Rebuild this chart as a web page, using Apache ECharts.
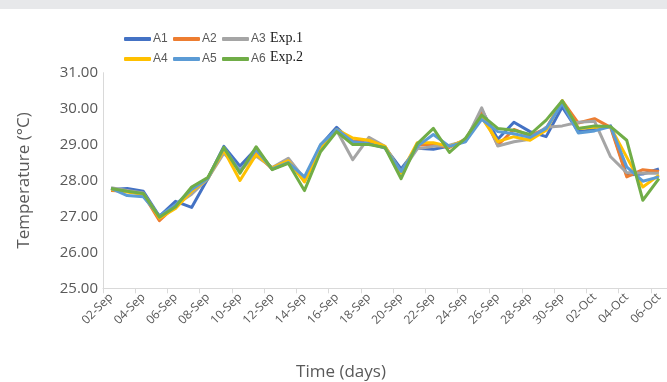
<!DOCTYPE html>
<html>
<head>
<meta charset="utf-8">
<script src="https://cdn.jsdelivr.net/npm/echarts@6/dist/echarts.min.js"></script>
<style>
  html, body { margin: 0; padding: 0; background: #ffffff; }
  #chart { width: 667px; height: 382px; }
</style>
</head>
<body>
<div id="chart"></div>
<script>
// Daily dates, 02-Sep to 06-Oct
const days = [
  '02-Sep','03-Sep','04-Sep','05-Sep','06-Sep','07-Sep','08-Sep','09-Sep','10-Sep','11-Sep',
  '12-Sep','13-Sep','14-Sep','15-Sep','16-Sep','17-Sep','18-Sep','19-Sep','20-Sep','21-Sep',
  '22-Sep','23-Sep','24-Sep','25-Sep','26-Sep','27-Sep','28-Sep','29-Sep','30-Sep','01-Oct',
  '02-Oct','03-Oct','04-Oct','05-Oct','06-Oct'
];

// Temperature (°C) per sensor
const A1 = [27.75,27.78,27.70,27.00,27.42,27.25,28.05,28.95,28.40,28.88,28.32,28.50,28.02,28.98,29.48,29.05,29.05,28.92,28.32,28.90,28.87,28.96,29.10,29.96,29.15,29.62,29.36,29.22,30.05,29.36,29.42,29.52,28.15,28.18,28.32];
const A2 = [27.72,27.70,27.62,26.88,27.30,27.70,28.05,28.88,28.25,28.75,28.32,28.58,27.98,28.90,29.40,29.10,29.10,28.92,28.22,28.98,29.00,28.92,29.15,29.90,28.98,29.42,29.25,29.45,30.22,29.60,29.72,29.48,28.10,28.30,28.25];
const A3 = [27.80,27.72,27.65,26.98,27.32,27.62,28.05,28.76,28.30,28.68,28.36,28.62,28.05,28.90,29.40,28.58,29.20,28.95,28.22,28.88,28.95,28.98,29.10,30.02,28.96,29.08,29.15,29.48,29.52,29.62,29.65,28.66,28.22,28.20,28.20];
const A4 = [27.75,27.68,27.62,26.95,27.22,27.70,28.05,28.84,28.00,28.72,28.35,28.55,27.96,28.90,29.42,29.18,29.12,28.95,28.20,29.05,29.05,28.95,29.12,29.75,29.08,29.22,29.12,29.40,30.22,29.45,29.48,29.48,28.65,27.82,28.15];
const A5 = [27.78,27.58,27.55,27.02,27.32,27.75,28.05,28.92,28.25,28.86,28.32,28.50,28.10,29.00,29.42,29.08,29.02,28.90,28.25,28.95,29.28,28.95,29.08,29.70,29.36,29.30,29.20,29.45,30.15,29.32,29.38,29.50,28.38,27.98,28.10];
const A6 = [27.78,27.70,27.64,26.98,27.27,27.82,28.08,28.92,28.20,28.94,28.30,28.48,27.72,28.80,29.36,29.00,29.00,28.92,28.05,29.02,29.45,28.78,29.18,29.82,29.45,29.40,29.28,29.68,30.22,29.45,29.52,29.50,29.12,27.45,28.05];

const seriesNames = ['A1','A2','A3','A4','A5','A6'];
const seriesData = [A1, A2, A3, A4, A5, A6];
const colors = ['#4472C4','#ED7D31','#A5A5A5','#FFC000','#5B9BD5','#70AD47'];

// Experiment labels beside each legend row
const expLabels = ['Exp.1', 'Exp.2'];

const yTicks = { min: 25, max: 31, step: 1 };

const grey = '#595959';
const font = '"Open Sans", "Noto Sans", sans-serif';

const chart = echarts.init(document.getElementById('chart'), null, { renderer: 'canvas' });

// One legend entry per component, laid out in two rows of three
const legendCols = [124, 173, 222];
const legendRows = [33, 53];
const legends = seriesNames.map((n, i) => ({
  data: [n],
  left: legendCols[i % 3],
  top: legendRows[Math.floor(i / 3)],
  padding: 0,
  icon: 'roundRect',
  itemWidth: 27,
  itemHeight: 4,
  selectedMode: false,
  textStyle: { color: grey, fontSize: 12, fontFamily: '"Liberation Sans", sans-serif', padding: [0, 0, 0, -3] }
}));

chart.setOption({
  animation: false,
  color: colors,
  grid: { left: 103, right: -2, top: 72.7, bottom: 93.7, containLabel: false },
  legend: legends,
  xAxis: {
    type: 'category',
    data: days,
    boundaryGap: true,
    axisLine: { show: true, lineStyle: { color: '#d9d9d9', width: 1 } },
    axisTick: { show: true, interval: 1, length: 5, lineStyle: { color: '#d9d9d9' } },
    axisLabel: { interval: 1, rotate: 45, color: grey, fontSize: 12, fontFamily: font, margin: 7 },
    splitLine: { show: false }
  },
  yAxis: {
    type: 'value',
    min: yTicks.min,
    max: yTicks.max,
    interval: yTicks.step,
    axisLine: { show: true, lineStyle: { color: '#d9d9d9', width: 1 } },
    axisTick: { show: false },
    splitLine: { show: false },
    axisLabel: {
      color: grey, fontSize: 15, fontFamily: font, margin: 5,
      formatter: v => v.toFixed(2)
    },
    name: 'Temperature (°C)',
    nameLocation: 'middle',
    nameGap: 70,
    nameTextStyle: { color: grey, fontSize: 17, fontFamily: font }
  },
  series: seriesNames.map((n, i) => ({
    name: n,
    type: 'line',
    data: seriesData[i],
    showSymbol: false,
    symbol: 'none',
    lineStyle: { width: 3, color: colors[i], join: 'round' },
    itemStyle: { color: colors[i] },
    z: 2 + i
  })),
  graphic: [
    { type: 'rect', left: 0, top: 0, shape: { width: 667, height: 9 }, style: { fill: '#e7e8ea' }, silent: true },
    { type: 'text', x: 270, y: 38, style: { text: expLabels[0], fill: '#1a1a1a', fontSize: 14, fontFamily: '"Liberation Serif", "DejaVu Serif", serif', verticalAlign: 'middle' } },
    { type: 'text', x: 270, y: 57, style: { text: expLabels[1], fill: '#1a1a1a', fontSize: 14, fontFamily: '"Liberation Serif", "DejaVu Serif", serif', verticalAlign: 'middle' } },
    { type: 'text', x: 341, y: 372, style: { text: 'Time (days)', fill: grey, fontSize: 17, fontFamily: font, align: 'center', verticalAlign: 'middle' } }
  ]
});
</script>
</body>
</html>
